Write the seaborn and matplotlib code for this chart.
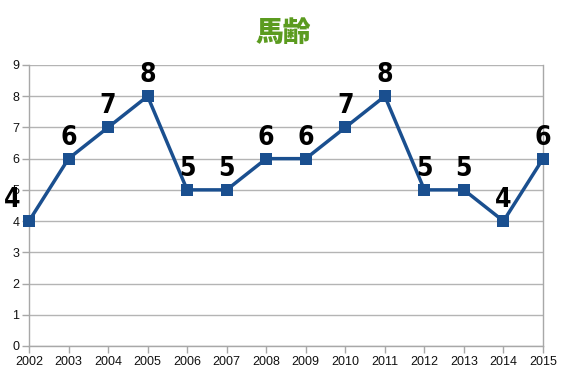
import matplotlib
matplotlib.use("Agg")
import matplotlib.pyplot as plt
import seaborn as sns
import pandas as pd

years = [2002, 2003, 2004, 2005, 2006, 2007, 2008, 2009, 2010, 2011, 2012, 2013, 2014, 2015]
values = [4, 6, 7, 8, 5, 5, 6, 6, 7, 8, 5, 5, 4, 6]
title = "馬齢"

sns.set_theme(style="white")
plt.rcParams['font.family'] = ['Liberation Sans', 'DejaVu Sans']

df = pd.DataFrame({"year": [str(y) for y in years], "value": values})

fig = plt.figure(figsize=(5.67, 3.78), dpi=100)
ax = fig.add_axes([0.0511, 0.0847, 0.9066, 0.7434])

sns.lineplot(data=df, x="year", y="value", ax=ax, color="#1a4f8f", linewidth=2.5,
             marker="s", markersize=8, markeredgewidth=0, sort=False, clip_on=False, zorder=5)

ax.set_xlim(0, len(years) - 1)
ax.set_ylim(0, 9)
ax.set_yticks(range(0, 10))
ax.yaxis.grid(True, color="#b4b4b4", linewidth=1)
ax.xaxis.grid(False)
ax.spines["top"].set_visible(False)
for s in ["left", "right", "bottom"]:
    ax.spines[s].set_color("#a8a8a8")
    ax.spines[s].set_linewidth(1)
ax.tick_params(axis="both", which="both", length=5, width=1, color="#a8a8a8",
               labelsize=9, labelcolor="#111111", pad=2, direction="out", left=True, bottom=True)
ax.set_xlabel("")
ax.set_ylabel("")

for i, v in enumerate(values):
    dx = -17 if i == 0 else 0
    ax.annotate(str(v), (i, v), xytext=(dx, 8), textcoords="offset pixels",
                ha="center", va="bottom", fontsize=19, fontweight="heavy",
                family="DejaVu Sans", fontstretch="condensed", color="#000000",
                annotation_clip=False, zorder=6)

fig.text(0.499, 0.913, title, ha="center", va="center", fontsize=20, fontweight="heavy",
         color="#5b9b1f", family=["Noto Sans CJK JP", "DejaVu Sans"])

fig.savefig("out.png", dpi=100)
